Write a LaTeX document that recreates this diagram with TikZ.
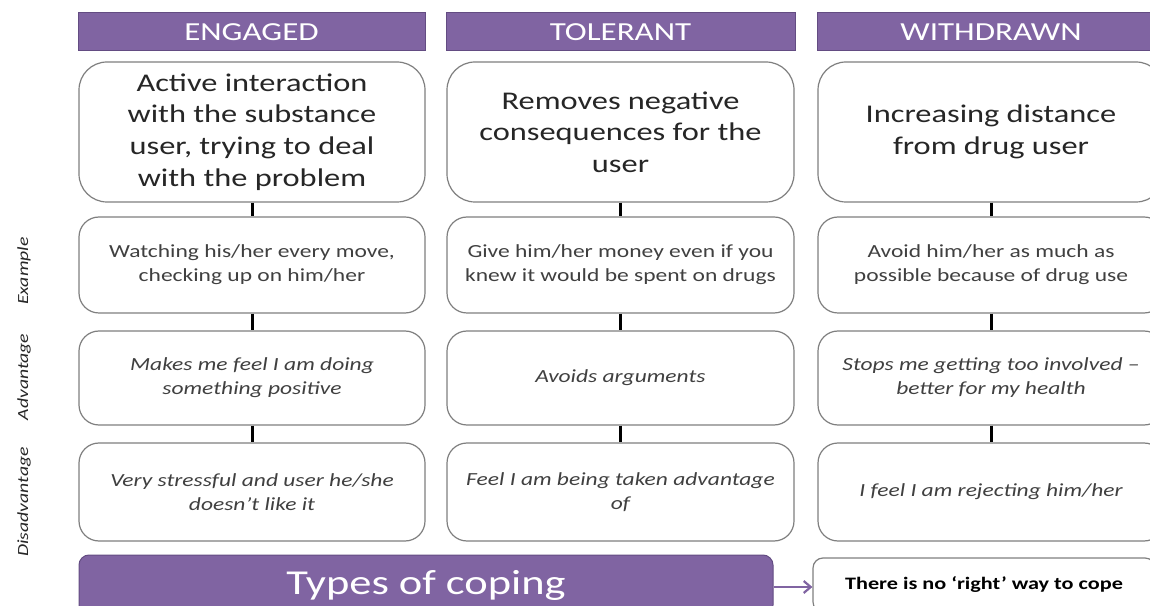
\documentclass[tikz,border=0pt]{standalone}
\usepackage{fontspec}
\setmainfont{Carlito}[FakeStretch=1.27]
\usetikzlibrary{arrows.meta}
\definecolor{cpurple}{HTML}{8064A2}
\definecolor{cpurpledark}{HTML}{634C82}
\definecolor{cborder}{HTML}{7F7F7F}
\definecolor{ctext}{HTML}{262626}
\definecolor{csmall}{HTML}{404040}
\tikzset{
  hdr/.style={rectangle, fill=cpurple, draw=cpurpledark, line width=1pt,
    minimum height=38pt, inner sep=0pt, text=white,
    font=\fontsize{26}{30}\selectfont},
  topbox/.style={rectangle, rounded corners=28pt, draw=cborder, line width=1.2pt,
    fill=white, minimum height=140pt, inner sep=0pt, align=center, text=ctext,
    font=\fontsize{25.5}{31.7}\selectfont},
  smallbox/.style={rectangle, rounded corners=20pt, draw=cborder, line width=1.2pt,
    fill=white, inner sep=0pt, align=center, text=csmall,
    font=\fontsize{18.5}{24}\selectfont},
  itbox/.style={smallbox, font=\fontsize{18.5}{24}\selectfont\itshape},
  rowlabel/.style={rotate=90, inner sep=0pt, text=ctext,
    font=\fontsize{15.5}{18}\selectfont\itshape},
  conn/.style={draw=black, line width=3pt},
}
\begin{document}
\begin{tikzpicture}[x=1pt,y=1pt]
\useasboundingbox (0,0) rectangle (1150,605);
\clip (0,0) rectangle (1150,605);

% headers
\node[hdr, minimum width=347pt] (h1) at (251.5,573) {ENGAGED};
\node[hdr, minimum width=349pt] (h2) at (620.5,573) {TOLERANT};
\node[hdr, minimum width=348pt] (h3) at (991,573) {WITHDRAWN};

% top boxes
\node[topbox, minimum width=346pt] (t1) at (252,473)
  {Active interaction\\with the substance\\user, trying to deal\\with the problem};
\node[topbox, minimum width=347pt] (t2) at (620.5,473)
  {Removes negative\\consequences for the\\user};
\node[topbox, minimum width=346pt] (t3) at (991,473)
  {Increasing distance\\from drug user};

% example row
\node[smallbox, minimum width=346pt, minimum height=96pt] (e1) at (252,340)
  {Watching his/her every move,\\checking up on him/her};
\node[smallbox, minimum width=347pt, minimum height=96pt] (e2) at (620.5,340)
  {Give him/her money even if you\\knew it would be spent on drugs};
\node[smallbox, minimum width=346pt, minimum height=96pt] (e3) at (991,340)
  {Avoid him/her as much as\\possible because of drug use};

% advantage row
\node[itbox, minimum width=346pt, minimum height=94pt] (a1) at (252,227)
  {Makes me feel I am doing\\something positive};
\node[itbox, minimum width=347pt, minimum height=94pt] (a2) at (620.5,227)
  {Avoids arguments};
\node[itbox, minimum width=346pt, minimum height=94pt] (a3) at (991,227)
  {Stops me getting too involved --\\better for my health};

% disadvantage row
\node[itbox, minimum width=346pt, minimum height=98pt] (d1) at (252,113)
  {Very stressful and user he/she\\doesn’t like it};
\node[itbox, minimum width=347pt, minimum height=98pt] (d2) at (620.5,113)
  {Feel I am being taken advantage\\of};
\node[itbox, minimum width=346pt, minimum height=98pt] (d3) at (991,113)
  {I feel I am rejecting him/her};

% connectors
\foreach \c in {1,2,3}{
  \draw[conn] (t\c.south) -- (e\c.north);
  \draw[conn] (e\c.south) -- (a\c.north);
  \draw[conn] (a\c.south) -- (d\c.north);
}

% row labels
\node[rowlabel] (lex) at (24,334) {Example};
\node[rowlabel] (ladv) at (24,228) {Advantage};
\node[rowlabel] (ldis) at (24,103) {Disadvantage};

% bottom
\node[rectangle, rounded corners=10pt, fill=cpurple, draw=cpurpledark, line width=1pt,
  minimum width=694pt, minimum height=60pt, inner sep=0pt, text=white,
  font=\fontsize{35}{40}\selectfont] (types) at (426,20) {Types of coping};
\node[rectangle, rounded corners=10pt, fill=white, draw=cborder, line width=1.2pt,
  minimum width=342pt, minimum height=54pt, inner sep=0pt, text=black,
  font=\fontsize{17.5}{21}\selectfont\bfseries] (right) at (984,20)
  {There is no ‘right’ way to cope};
\draw[draw=cpurple, line width=2.2pt, -{Straight Barb[length=7pt,width=12pt]}]
  (types.east |- 0,18) -- (right.west |- 0,18);
\end{tikzpicture}
\end{document}
